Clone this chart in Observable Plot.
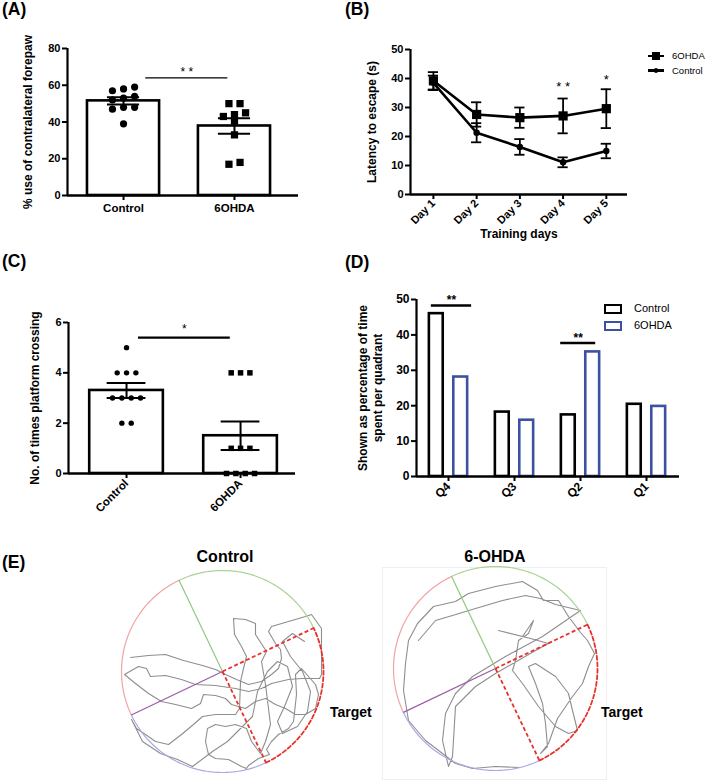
<!DOCTYPE html>
<html>
<head>
<meta charset="utf-8">
<script src="https://cdn.jsdelivr.net/npm/d3@7"></script>
<script src="https://cdn.jsdelivr.net/npm/@observablehq/plot@0.6"></script>
<style>
  body { margin: 0; background: #fff; }
  #fig { position: relative; width: 709px; height: 782px; overflow: hidden; background: #fff; }
  #fig svg { position: absolute; }
</style>
</head>
<body>
<div id="fig"></div>
<script>
// ---------------- DATA ----------------
// Panel A: % use of contralateral forepaw
const groupsA = ["Control", "6OHDA"];
const controlA = [57, 58, 59, 52, 53, 54, 48, 48, 47, 39];
const ohdaA = [50, 50, 45, 44, 43, 40.5, 33, 18, 17];
const yTitleA = "% use of contralateral forepaw";
const sigA = [{from: 0.2, to: 0.94, y: 64, label: "* *"}];

// Panel B: latency to escape
const days = ["Day 1", "Day 2", "Day 3", "Day 4", "Day 5"];
const ohdaB = [39.2, 27.6, 26.5, 27.1, 29.6];
const ohdaBerr = [3.0, 4.2, 3.5, 6.0, 6.7];
const controlB = [38.5, 21.3, 16.4, 11.1, 15.0];
const controlBerr = [2.5, 3.3, 2.7, 1.7, 2.5];
const sigB = [{day: 3, y: 38.3, label: "* *"}, {day: 4, y: 40.7, label: "*"}];

// Panel C: platform crossings
const groupsC = ["Control", "6OHDA"];
const controlC = [5, 4, 4, 4, 3, 3, 3, 3, 2, 2];
const ohdaC = [4, 4, 4, 1, 1, 1, 0, 0, 0, 0];
const yTitleC = "No. of times platform crossing";
const sigC = [{from: 0.105, to: 0.91, y: 5.4, label: "*"}];

// Panel D: time per quadrant
const quadrants = ["Q4", "Q3", "Q2", "Q1"];
const controlD = [46, 18.2, 17.4, 20.4];
const ohdaD = [28.1, 15.9, 35.2, 19.8];
const yTitleD = "Shown as percentage of time\nspent per quadrant";
const sigD = [{q: 0, from: -0.26, to: 0.35, y: 48.3, label: "**"}, {q: 2, from: -0.3, to: 0.23, y: 37.7, label: "**"}];

// Panel E: swim tracks (pool units, centre = 0, radius ~100, y up)
const quadAngles = [25.5, 115.5, 205.5, 295.5];
const controlTrack = [
  [-92,14],[-74,16],[-57,17],[-39,11],[-20,6],[-7,2],[3,-3],[14,-8],[26,-13],[39,-10],[49,-3],[56,3],
  [59,13],[58,22],[53,28],[46,40],[49,45],[66,50],[83,55],[89,57],[99,43],[99,20],[99,-3],[97,-7],
  [86,-7],[79,-7],[66,-8],[49,-12],[39,-17],[26,-20],[13,-17],[-7,-14],[-27,-13],[-41,-8],[-57,-4],
  [-72,-5],[-76,3],[-84,5],[-98,-3],[-87,-12],[-74,-22],[-61,-30],[-47,-33],[-31,-37],[-22,-32],[-19,-23],
  [-7,-24],[3,-27],[9,-33],[23,-37],[33,-30],[43,-27],[53,-33],[63,-37],[73,-43],[83,-43],[93,-37],
  [96,-23],[93,-13],[79,3],[73,-3],[74,-23],[71,-50],[66,-57],[56,-63],[49,-70],[44,-78],[47,-83],
  [36,-87],[26,-94],[24,-97],[19,-95],[6,-88],[-7,-87],[-14,-83],[-17,-70],[-15,-57],[-7,-53],[3,-55],
  [13,-53],[24,-57],[29,-70],[38,-82],[43,-70],[48,-53],[46,-37],[43,-13],[39,10],[44,20],[33,37],
  [33,48],[23,52],[11,53],[12,37],[19,25],[24,15],[21,3],[18,-10],[17,-37],[13,-43],[-7,-43],[-20,-45],
  [-29,-53],[-41,-63],[-54,-73],[-67,-70],[-77,-63],[-86,-57],[-91,-48],[-80,-70],[-62,-82],[-45,-88],[-30,-95],
  [-10,-80],[5,-70],[15,-60],[30,-45],[35,-20],[45,0],[55,10],[65,5],[70,-15],[62,-35],[55,-50],[60,-62],
  [75,-55],[85,-40],[88,-20],[80,0],[68,15],[60,30],[70,38],[82,30]
];
const ohdaTrack = [
  [-77,28],[-60,48],[-43,53],[-20,60],[7,68],[30,73],[45,70],[60,64],[85,58],[47,32],[10,12],[-23,-8],
  [-40,-25],[-50,-45],[-53,-72],[-47,-98],[-43,-88],[-40,-38],[-20,-18],[0,-5],[40,18],[53,25],[35,30],
  [3,38],[27,32],[38,48],[33,35],[23,28],[20,8],[17,-2],[27,-15],[43,-38],[60,-58],[73,-65],[82,-62],
  [77,-42],[73,-25],[60,-8],[40,5],[33,2],[40,-15],[47,-35],[50,-55],[52,-78],[45,-85],[53,-75],[62,-50],
  [77,-28],[87,-15],[93,2],[99,15],[92,28],[85,36],[73,52],[63,68],[48,68],[42,78],[27,87],[0,82],
  [-27,75],[-40,67],[-62,62],[-78,45],[-87,28],[-90,5],[-92,-22],[-87,-52],[-70,-72],[-53,-85],[-40,-95],
  [-23,-100],[0,-98],[23,-99]
];

// ---------------- HELPERS ----------------
const FONT = "'Liberation Sans', Arial, Helvetica, sans-serif";
const fig = document.getElementById("fig");
const baseStyle = {fontFamily: FONT, fontSize: "11px", fontWeight: "bold", background: "transparent", overflow: "visible", color: "black"};
const num = d => String(d);

function put(svg, left, top) {
  svg.style.left = left + "px";
  svg.style.top = top + "px";
  fig.appendChild(svg);
}
function label(txt, left, top, css = "") {
  const d = document.createElement("div");
  d.textContent = txt;
  d.style.cssText = `position:absolute;left:${left}px;top:${top}px;white-space:nowrap;line-height:1;font-family:${FONT};color:#000;${css}`;
  fig.appendChild(d);
  return d;
}
function meanSem(vals) {
  const m = d3.mean(vals);
  const se = d3.deviation(vals) / Math.sqrt(vals.length);
  return {mean: m, lo: m - se, hi: m + se};
}
// simple row-based scatter layout: points of similar value share a centred row
function swarm(vals, gi, tol, spacing) {
  const sorted = vals.slice().sort((a, b) => b - a);
  const rows = [];
  for (const v of sorted) {
    const r = rows[rows.length - 1];
    if (r && r[0] - v <= tol) r.push(v); else rows.push([v]);
  }
  const out = [];
  for (const r of rows) {
    r.sort((a, b) => a - b);
    r.forEach((v, k) => out.push({x: gi + (k - (r.length - 1) / 2) * spacing, y: v, g: gi}));
  }
  return out;
}
const yTitle = (txt, dx, extra = {}) =>
  Plot.text([txt], {frameAnchor: "left", textAnchor: "middle", lineAnchor: "middle", dx, rotate: -90, fontSize: 12, fontWeight: "bold", ...extra});

// ---------------- PANEL A ----------------
{
  const xd = [-0.505, 1.577];
  const stats = [controlA, ohdaA].map((v, i) => ({i, ...meanSem(v)}));
  const pts = [controlA, ohdaA].flatMap((v, gi) => swarm(v, gi, 2.5, 0.1));
  const hw = 0.325, cap = 0.145;
  const p = Plot.plot({
    width: 354, height: 230, marginLeft: 67, marginRight: 56, marginTop: 48, marginBottom: 35,
    style: baseStyle,
    x: {domain: xd}, y: {domain: [0, 80]},
    marks: [
      Plot.rect(stats, {x1: d => d.i - hw, x2: d => d.i + hw, y1: 0, y2: "mean", fill: "white", stroke: "black", strokeWidth: 2.6}),
      Plot.dot(pts.filter(d => d.g === 0), {x: "x", y: "y", r: 3.6, fill: "black", stroke: "none"}),
      Plot.dot(pts.filter(d => d.g === 1), {x: "x", y: "y", r: 4.1, symbol: "square", fill: "black", stroke: "none"}),
      Plot.ruleX(stats, {x: "i", y1: "lo", y2: "hi", strokeWidth: 2}),
      Plot.ruleY(stats, {y: "hi", x1: d => d.i - cap, x2: d => d.i + cap, strokeWidth: 2}),
      Plot.ruleY(stats, {y: "lo", x1: d => d.i - cap, x2: d => d.i + cap, strokeWidth: 2}),
      Plot.ruleX([xd[0]], {y1: 0, y2: 80, strokeWidth: 2.2}),
      Plot.ruleY([0], {x1: xd[0], x2: xd[1], strokeWidth: 2.4}),
      Plot.axisY({ticks: [0, 20, 40, 60, 80], tickFormat: num, tickSize: 5, tickPadding: 2, strokeWidth: 2, label: null, fontSize: 11}),
      Plot.axisX({ticks: [0, 1], tickFormat: i => groupsA[i], tickSize: 5, tickPadding: 3, strokeWidth: 2, label: null, fontSize: 11.5}),
      yTitle(yTitleA, -39),
      Plot.ruleY(sigA, {y: "y", x1: "from", x2: "to", strokeWidth: 1.3}),
      Plot.text(sigA, {x: d => (d.from + d.to) / 2, y: "y", text: "label", dy: -6, fontSize: 12, fontWeight: "normal"})
    ]
  });
  put(p, 0, 0);
}

// ---------------- PANEL B ----------------
{
  const xd = [-0.53, 4.49];
  const rows = days.flatMap((d, i) => [
    {i, series: "6OHDA", v: ohdaB[i], e: ohdaBerr[i]},
    {i, series: "Control", v: controlB[i], e: controlBerr[i]}
  ]);
  const cap = 0.118;
  const p = Plot.plot({
    width: 355, height: 250, marginLeft: 56, marginRight: 82, marginTop: 49, marginBottom: 56,
    style: baseStyle,
    x: {domain: xd}, y: {domain: [0, 50]},
    marks: [
      Plot.ruleX(rows, {x: "i", y1: d => d.v - d.e, y2: d => d.v + d.e, strokeWidth: 1.8}),
      Plot.ruleY(rows, {y: d => d.v + d.e, x1: d => d.i - cap, x2: d => d.i + cap, strokeWidth: 1.8}),
      Plot.ruleY(rows, {y: d => d.v - d.e, x1: d => d.i - cap, x2: d => d.i + cap, strokeWidth: 1.8}),
      Plot.line(rows, {x: "i", y: "v", z: "series", stroke: "black", strokeWidth: 2.6}),
      Plot.dot(rows.filter(d => d.series === "6OHDA"), {x: "i", y: "v", symbol: "square", r: 5.2, fill: "black", stroke: "none"}),
      Plot.dot(rows.filter(d => d.series === "Control"), {x: "i", y: "v", r: 3.2, fill: "black", stroke: "none"}),
      Plot.ruleX([xd[0]], {y1: 0, y2: 50, strokeWidth: 2.2}),
      Plot.ruleY([0], {x1: xd[0], x2: xd[1], strokeWidth: 2.4}),
      Plot.axisY({ticks: [0, 10, 20, 30, 40, 50], tickFormat: num, tickSize: 5, tickPadding: 2, strokeWidth: 2, label: null, fontSize: 11}),
      Plot.axisX({ticks: [0, 1, 2, 3, 4], tickFormat: i => days[i], tickRotate: -45, tickSize: 5, tickPadding: 2, strokeWidth: 2, label: null, fontSize: 11}),
      yTitle("Latency to escape (s)", -38),
      Plot.text(["Training days"], {frameAnchor: "bottom", textAnchor: "middle", dy: 43, fontSize: 12, fontWeight: "bold"}),
      Plot.text(sigB, {x: "day", y: "y", text: "label", dy: 3, fontSize: 13, fontWeight: "normal"})
    ]
  });
  put(p, 354, 0);
}

// ---------------- PANEL C ----------------
{
  const xd = [-0.509, 1.482];
  const stats = [controlC, ohdaC].map((v, i) => ({i, ...meanSem(v)}));
  const pts = [controlC, ohdaC].flatMap((v, gi) => swarm(v, gi, 0.5, 0.082));
  const hw = 0.323, cap = 0.17;
  const p = Plot.plot({
    width: 354, height: 270, marginLeft: 68, marginRight: 59, marginTop: 62, marginBottom: 57,
    style: baseStyle,
    x: {domain: xd}, y: {domain: [0, 6]},
    marks: [
      Plot.rect(stats, {x1: d => d.i - hw, x2: d => d.i + hw, y1: 0, y2: "mean", fill: "white", stroke: "black", strokeWidth: 2.6}),
      Plot.dot(pts.filter(d => d.g === 0), {x: "x", y: "y", r: 2.7, fill: "black", stroke: "none"}),
      Plot.dot(pts.filter(d => d.g === 1), {x: "x", y: "y", r: 3.1, symbol: "square", fill: "black", stroke: "none"}),
      Plot.ruleX(stats, {x: "i", y1: "lo", y2: "hi", strokeWidth: 2}),
      Plot.ruleY(stats, {y: "hi", x1: d => d.i - cap, x2: d => d.i + cap, strokeWidth: 2}),
      Plot.ruleY(stats, {y: "lo", x1: d => d.i - cap, x2: d => d.i + cap, strokeWidth: 2}),
      Plot.ruleX([xd[0]], {y1: 0, y2: 6, strokeWidth: 2.2}),
      Plot.ruleY([0], {x1: xd[0], x2: xd[1], strokeWidth: 2.4}),
      Plot.axisY({ticks: [0, 2, 4, 6], tickFormat: num, tickSize: 5, tickPadding: 2, strokeWidth: 2, label: null, fontSize: 11}),
      Plot.axisX({ticks: [0, 1], tickFormat: i => groupsC[i], tickRotate: -45, tickSize: 5, tickPadding: 3, strokeWidth: 2, label: null, fontSize: 11.5}),
      yTitle(yTitleC, -33),
      Plot.ruleY(sigC, {y: "y", x1: "from", x2: "to", strokeWidth: 2.2}),
      Plot.text(sigC, {x: d => (d.from + d.to) / 2, y: "y", text: "label", dy: -8, fontSize: 12, fontWeight: "normal"})
    ]
  });
  put(p, 0, 260);
}

// ---------------- PANEL D ----------------
{
  const xd = [-0.485, 3.5];
  const rowsC = quadrants.map((q, i) => ({i, v: controlD[i]}));
  const rowsO = quadrants.map((q, i) => ({i, v: ohdaD[i]}));
  const p = Plot.plot({
    width: 355, height: 270, marginLeft: 62, marginRight: 30, marginTop: 39, marginBottom: 54,
    style: baseStyle,
    x: {domain: xd}, y: {domain: [0, 50]},
    marks: [
      Plot.rect(rowsC, {x1: d => d.i - 0.29, x2: d => d.i - 0.08, y1: 0, y2: "v", fill: "white", stroke: "black", strokeWidth: 2.6}),
      Plot.rect(rowsO, {x1: d => d.i + 0.08, x2: d => d.i + 0.29, y1: 0, y2: "v", fill: "white", stroke: "#3d51a3", strokeWidth: 2.6}),
      Plot.ruleX([xd[0]], {y1: 0, y2: 50, strokeWidth: 2.2}),
      Plot.ruleY([0], {x1: xd[0], x2: xd[1], strokeWidth: 2.4}),
      Plot.axisY({ticks: [0, 10, 20, 30, 40, 50], tickFormat: num, tickSize: 5, tickPadding: 2, strokeWidth: 2, label: null, fontSize: 12}),
      Plot.axisX({ticks: [0, 1, 2, 3], tickFormat: i => quadrants[i], tickRotate: -45, tickSize: 5, tickPadding: 3, strokeWidth: 2, label: null, fontSize: 12}),
      yTitle(yTitleD, -46.5, {lineHeight: 1.25}),
      Plot.ruleY(sigD, {y: "y", x1: d => d.q + d.from, x2: d => d.q + d.to, strokeWidth: 2.6}),
      Plot.text(sigD, {x: d => d.q + (d.from + d.to) / 2, y: "y", text: "label", dy: -5, fontSize: 12, fontWeight: "bold"})
    ]
  });
  put(p, 354, 260);
}

// ---------------- PANEL E ----------------
function poolPlot(track, R) {
  const arcs = quadAngles.map((a, k) => d3.range(0, 90.01, 1.5).map(t => {
    const ang = (a + t) * Math.PI / 180;
    return {k, x: R * Math.cos(ang), y: R * Math.sin(ang)};
  }));
  const radial = quadAngles.map((a, k) => ({k, x: R * Math.cos(a * Math.PI / 180), y: R * Math.sin(a * Math.PI / 180)}));
  const trackPts = track.map(([x, y]) => ({x, y}));
  return Plot.plot({
    width: 240, height: 240, margin: 0,
    style: {background: "transparent", overflow: "visible"},
    x: {domain: [-120, 120], axis: null},
    y: {domain: [-120, 120], axis: null},
    marks: [
      Plot.line(trackPts, {x: "x", y: "y", stroke: "#8e8e8e", strokeWidth: 1.1, curve: "linear"}),
      Plot.line(arcs[0], {x: "x", y: "y", stroke: "#a9d494", strokeWidth: 1.2}),
      Plot.line(arcs[1], {x: "x", y: "y", stroke: "#f2a3a3", strokeWidth: 1.2}),
      Plot.line(arcs[2], {x: "x", y: "y", stroke: "#a8a8e3", strokeWidth: 1.2}),
      Plot.link([radial[1]], {x1: 0, y1: 0, x2: "x", y2: "y", stroke: "#92c87e", strokeWidth: 1.2}),
      Plot.link([radial[2]], {x1: 0, y1: 0, x2: "x", y2: "y", stroke: "#9b5fa8", strokeWidth: 1.3}),
      Plot.line(arcs[3], {x: "x", y: "y", stroke: "#e8312a", strokeWidth: 1.8, strokeDasharray: "4,2.5"}),
      Plot.link([radial[0], radial[3]], {x1: 0, y1: 0, x2: "x", y2: "y", stroke: "#e8312a", strokeWidth: 1.8, strokeDasharray: "4,2.5"})
    ]
  });
}
{
  const frame = document.createElement("div");
  frame.style.cssText = "position:absolute;left:382px;top:567px;width:225px;height:213px;border:1px solid #efefef;box-sizing:border-box;";
  fig.appendChild(frame);
  put(poolPlot(controlTrack, 101), 102, 551);
  put(poolPlot(ohdaTrack, 102), 375, 548);
}

// ---------------- TEXT LABELS / LEGENDS ----------------
label("(A)", 2, 1, "font-size:17.5px;font-weight:bold;");
label("(B)", 345, 1, "font-size:17.5px;font-weight:bold;");
label("(C)", 2, 253, "font-size:17.5px;font-weight:bold;");
label("(D)", 345, 254, "font-size:17.5px;font-weight:bold;");
label("(E)", 2, 554, "font-size:17.5px;font-weight:bold;");

// legend B
{
  const items = [{name: "6OHDA", y: 56, sq: true}, {name: "Control", y: 70.5, sq: false}];
  for (const it of items) {
    const ln = document.createElement("div");
    ln.style.cssText = `position:absolute;left:648px;top:${it.y - 1.2}px;width:16px;height:2.4px;background:#000;`;
    fig.appendChild(ln);
    const mk = document.createElement("div");
    const s = it.sq ? 7.5 : 4.5;
    mk.style.cssText = `position:absolute;left:${656 - s / 2}px;top:${it.y - s / 2}px;width:${s}px;height:${s}px;background:#000;${it.sq ? "" : "border-radius:50%;"}`;
    fig.appendChild(mk);
    label(it.name, 672, it.y - 5, "font-size:9.5px;");
  }
}
// legend D
{
  const items = [{name: "Control", y: 309, c: "#000"}, {name: "6OHDA", y: 326, c: "#3d51a3"}];
  for (const it of items) {
    const bx = document.createElement("div");
    bx.style.cssText = `position:absolute;left:604px;top:${it.y - 5}px;width:18px;height:10px;border:2.5px solid ${it.c};box-sizing:border-box;background:#fff;`;
    fig.appendChild(bx);
    label(it.name, 634, it.y - 6, "font-size:11px;");
  }
}
// Panel E titles
label("Control", 225, 549, "font-size:16px;font-weight:bold;transform:translateX(-50%);");
label("6-OHDA", 495, 549, "font-size:16px;font-weight:bold;transform:translateX(-50%);");
label("Target", 330, 705, "font-size:14px;font-weight:bold;");
label("Target", 601, 705, "font-size:14px;font-weight:bold;");
</script>
</body>
</html>
